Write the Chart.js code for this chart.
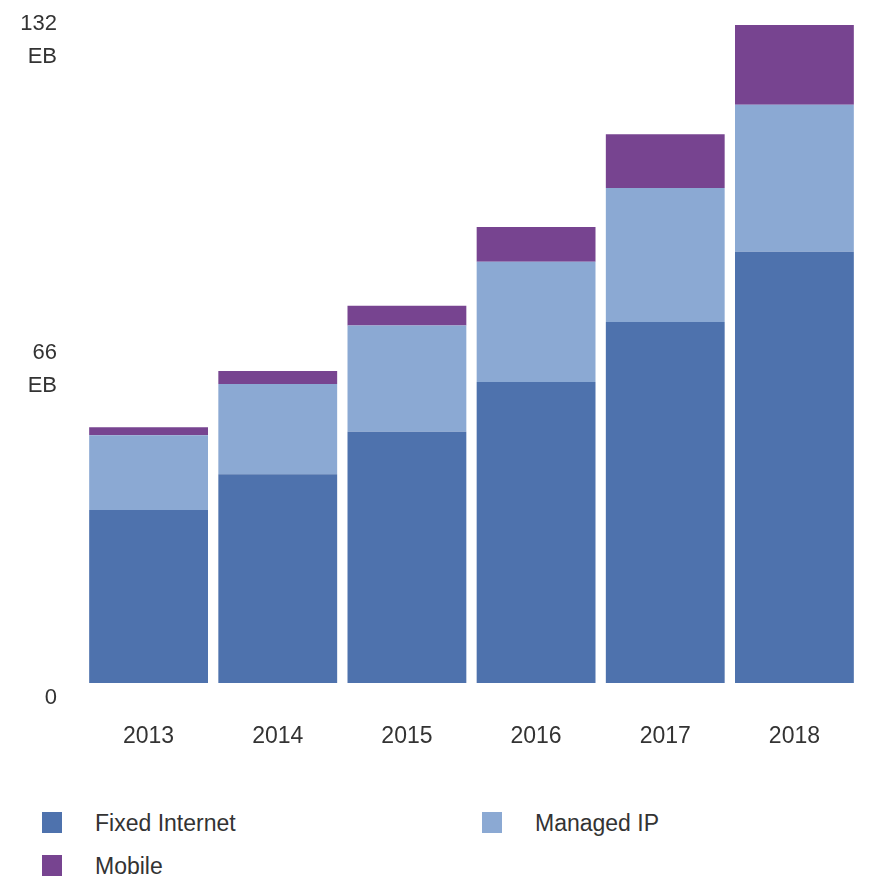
<!DOCTYPE html>
<html>
<head>
<meta charset="utf-8">
<script src="https://cdn.jsdelivr.net/npm/chart.js@4.4.1/dist/chart.umd.min.js"></script>
<style>
  body { margin: 0; background: #fff; font-family: "Liberation Sans", Arial, sans-serif; }
  #wrap { position: relative; width: 872px; height: 886px; overflow: hidden; }
  #myChart { position: absolute; left: 0; top: 0; }
  #legend { position: absolute; left: 42px; top: 810px; width: 900px; display: flex; flex-wrap: wrap; }
  .item { width: 440px; height: 43px; display: flex; align-items: flex-start; color: #333; font-size: 23px; }
  .box { width: 20px; height: 21px; margin-right: 33px; margin-top: 2px; }
</style>
</head>
<body>
<div id="wrap">
  <canvas id="myChart" width="872" height="790"></canvas>
  <div id="legend"></div>
</div>
<script>
const years = ['2013', '2014', '2015', '2016', '2017', '2018'];
const fixedInternet = [34.7, 41.9, 50.4, 60.4, 72.4, 86.5];
const managedIP = [15.0, 18.1, 21.3, 24.1, 26.9, 29.5];
const mobile = [1.6, 2.6, 4.0, 7.0, 10.8, 16.0];

const yTicks = [0, 66, 132];
const yTickLabels = [['0'], ['66', 'EB'], ['132', 'EB']];

const seriesNames = ['Fixed Internet', 'Managed IP', 'Mobile'];
const seriesColors = ['#4e72ad', '#8ba9d3', '#774490'];

function makeDataset(i, values) {
    return {
        label: seriesNames[i],
        data: values,
        backgroundColor: seriesColors[i],
        borderWidth: 0,
        barPercentage: 0.92,
        categoryPercentage: 1.0
    };
}

const ctx = document.getElementById('myChart').getContext('2d');
const myChart = new Chart(ctx, {
    type: 'bar',
    data: {
        labels: years,
        datasets: [
            makeDataset(0, fixedInternet),
            makeDataset(1, managedIP),
            makeDataset(2, mobile)
        ]
    },
    options: {
        responsive: false,
        animation: false,
        layout: { padding: { top: 25, right: 13, left: 0, bottom: 0 } },
        plugins: {
            legend: { display: false },
            tooltip: { enabled: false }
        },
        scales: {
            x: {
                stacked: true,
                grid: { display: false, drawTicks: false },
                border: { display: false },
                ticks: {
                    color: '#333',
                    font: { family: 'Liberation Sans', size: 23 },
                    padding: 40
                },
                afterFit: function (scale) {
                    scale.height = 107;
                    scale.paddingLeft = 0;
                    scale.paddingRight = 0;
                }
            },
            y: {
                stacked: true,
                min: 0,
                max: 132,
                grid: { display: false, drawTicks: false },
                border: { display: false },
                afterBuildTicks: function (scale) {
                    scale.ticks = yTicks.map(v => ({ value: v }));
                },
                ticks: {
                    color: '#333',
                    font: { family: 'Liberation Sans', size: 22, lineHeight: 1.5 },
                    padding: 27,
                    labelOffset: 15,
                    callback: function (value) {
                        const idx = yTicks.indexOf(value);
                        return idx >= 0 ? yTickLabels[idx] : '';
                    }
                },
                afterFit: function (scale) {
                    scale.width = 84;
                    scale.paddingTop = 0;
                    scale.paddingBottom = 0;
                }
            }
        }
    }
});

// legend laid out in two columns like the original
const legendEl = document.getElementById('legend');
myChart.data.datasets.forEach(ds => {
    const item = document.createElement('div');
    item.className = 'item';
    const box = document.createElement('span');
    box.className = 'box';
    box.style.background = ds.backgroundColor;
    const txt = document.createElement('span');
    txt.textContent = ds.label;
    item.appendChild(box);
    item.appendChild(txt);
    legendEl.appendChild(item);
});
</script>
</body>
</html>
